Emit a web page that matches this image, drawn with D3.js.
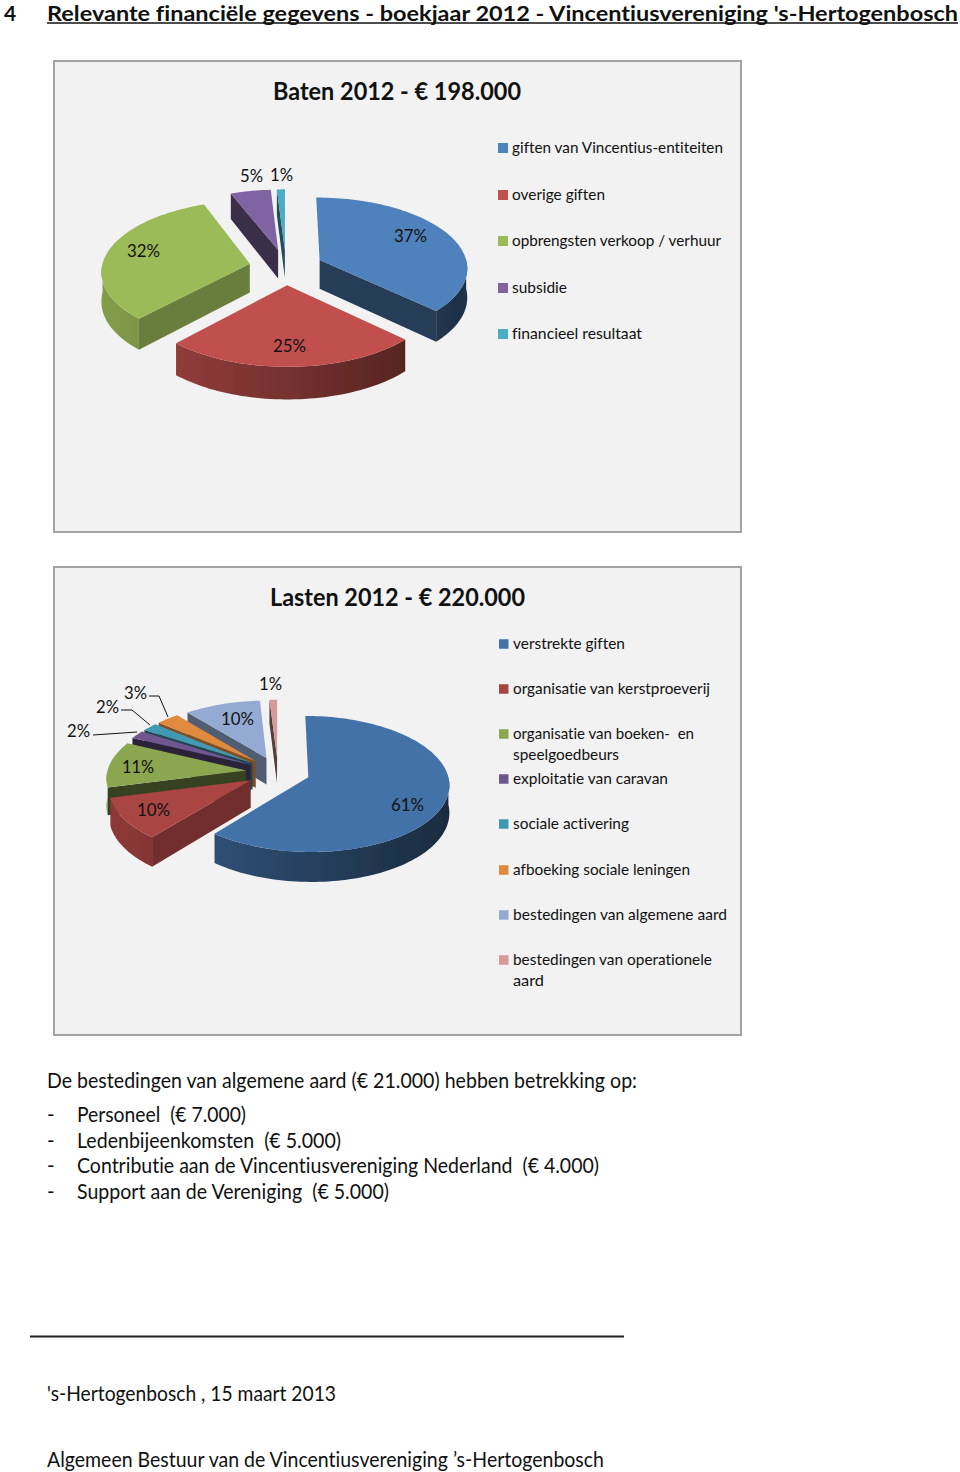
<!DOCTYPE html>
<html>
<head>
<meta charset="utf-8">
<script src="https://cdnjs.cloudflare.com/ajax/libs/d3/7.8.5/d3.min.js"></script>
<style>
html, body { margin: 0; background: #fff; }
svg { display: block; }
text { font-family: Lato, "Open Sans", sans-serif; fill: #111; font-variant-ligatures: none; }
</style>
</head>
<body>
<div id="page"></div>
<script>
// baten 2012
var batenLabels = ['giften van Vincentius-entiteiten', 'overige giften', 'opbrengsten verkoop / verhuur', 'subsidie', 'financieel resultaat'];
var batenValues = [37, 25, 32, 5, 1];
var batenColors = ['#4f81bd', '#c0504d', '#9bbb59', '#8064a2', '#4bacc6'];

// lasten 2012
var lastenLabels = ['verstrekte giften', 'organisatie van kerstproeverij', 'organisatie van boeken-  en|speelgoedbeurs', 'exploitatie van caravan', 'sociale activering', 'afboeking sociale leningen', 'bestedingen van algemene aard', 'bestedingen van operationele|aard'];
var lastenValues = [61, 10, 11, 2, 2, 3, 10, 1];
var lastenColors = ['#4372a8', '#a94442', '#8aa650', '#6f558f', '#3f9ab3', '#e08a3c', '#95aad3', '#d69a9a'];

var bulletLines = ['Personeel  (€ 7.000)', 'Ledenbijeenkomsten  (€ 5.000)', 'Contributie aan de Vincentiusvereniging Nederland  (€ 4.000)', 'Support aan de Vereniging  (€ 5.000)'];

var W = 960, H = 1472;
var svg = d3.select('#page').append('svg').attr('width', W).attr('height', H);
var defs = svg.append('defs');

// the scan is soft, keep the pies from looking too sharp next to it
defs.append('filter').attr('id', 'soft')
    .append('feGaussianBlur').attr('stdDeviation', 0.5);

// text squeezed to the width it has in the scan, the fonts here are wider than Calibri
function put(str, x, y, size, width, bold, anchor) {
    var t = svg.append('text')
        .attr('x', x)
        .attr('y', y)
        .attr('font-size', size)
        .attr('font-weight', bold ? 700 : 400)
        .attr('text-anchor', anchor || 'start')
        .attr('xml:space', 'preserve')
        .style('white-space', 'pre')
        .text(str);
    if (width) {
        t.attr('textLength', width).attr('lengthAdjust', 'spacingAndGlyphs');
    }
    return t;
}

function drawPanel(x, y, w, h) {
    svg.append('rect')
        .attr('x', x).attr('y', y)
        .attr('width', w).attr('height', h)
        .attr('fill', '#f2f2f2')
        .attr('stroke', '#a3a3a3')
        .attr('stroke-width', 2);
}

function drawPie3d(id, values, colors, o) {
    var x = d3.scaleLinear().domain([-1, 1]).range([o.cx - o.rx, o.cx + o.rx]);
    var y = d3.scaleLinear().domain([-1, 1]).range([o.cy - o.ry, o.cy + o.ry]);
    var line = d3.line();
    var pie = svg.append('g').attr('filter', 'url(#soft)');

    // u,v on the disc, v grows to the viewer. nearer is a bit bigger
    function project(u, v, down) {
        var s = 1 + 0.1 * v;
        return [x(u * s), y(v * s) + (down ? o.depth * s : 0)];
    }

    var arcs = d3.pie().sort(null)(values).map(function(d, i) {
        var mid = (d.startAngle + d.endAngle) / 2;
        return {
            i: i,
            a: d.startAngle,
            b: d.endAngle,
            mid: mid,
            ox: o.explode * Math.sin(mid),
            oy: -o.explode * Math.cos(mid)
        };
    });
    // far slices first
    arcs.sort(function(p, q) { return d3.ascending(p.oy, q.oy); });

    function rimPoints(d, from, to, down) {
        var n = Math.max(2, Math.ceil((to - from) / 0.03));
        return d3.range(n + 1).map(function(j) {
            var t = from + (to - from) * j / n;
            return project(d.ox + Math.sin(t), d.oy - Math.cos(t), down);
        });
    }

    arcs.forEach(function(d) {
        var g = pie.append('g').attr('class', 'slice');
        var c = colors[d.i];
        var apex = project(d.ox, d.oy, false);
        var apexDown = project(d.ox, d.oy, true);

        function face(angle) {
            var r = project(d.ox + Math.sin(angle), d.oy - Math.cos(angle), false);
            var rd = project(d.ox + Math.sin(angle), d.oy - Math.cos(angle), true);
            g.append('path')
                .attr('d', line([apex, r, rd, apexDown]) + 'Z')
                .attr('fill', d3.color(c).darker(o.faceDark[d.i]));
        }
        if (Math.sin(d.a) < 0) face(d.a);
        if (Math.sin(d.b) > 0) face(d.b);

        // outer wall, only the part that looks at the viewer
        var from = Math.max(d.a, Math.PI / 2), to = Math.min(d.b, Math.PI * 1.5);
        if (to > from) {
            var gid = id + '-rim-' + d.i;
            var grad = defs.append('linearGradient')
                .attr('id', gid)
                .attr('gradientUnits', 'userSpaceOnUse')
                .attr('x1', o.cx - o.rx * 1.2).attr('x2', o.cx + o.rx * 1.2)
                .attr('y1', 0).attr('y2', 0);
            grad.append('stop').attr('offset', '0%').attr('stop-color', d3.color(c).darker(0.5));
            grad.append('stop').attr('offset', '100%').attr('stop-color', d3.color(c).darker(2.7));
            var top = rimPoints(d, from, to, false);
            var bottom = rimPoints(d, from, to, true).reverse();
            g.append('path')
                .attr('d', line(top.concat(bottom)) + 'Z')
                .attr('fill', 'url(#' + gid + ')');
        }

        g.append('path')
            .attr('d', line([apex].concat(rimPoints(d, d.a, d.b, false))) + 'Z')
            .attr('fill', c);
    });
}

function drawLegend(labels, colors, ys, sx, sw, tx, widths) {
    labels.forEach(function(l, i) {
        svg.append('rect')
            .attr('x', sx).attr('y', ys[i] - sw / 2)
            .attr('width', sw).attr('height', sw)
            .attr('fill', colors[i]);
        l.split('|').forEach(function(part, j) {
            put(part, tx, ys[i] + 5 + j * 21, 15, widths[i][j]);
        });
    });
}

// header
put('4', 4, 20.8, 21, 0, true);
put("Relevante financiële gegevens - boekjaar 2012 - Vincentiusvereniging 's-Hertogenbosch", 47, 20.8, 21, 911, true);
svg.append('line').attr('x1', 47).attr('x2', 958).attr('y1', 23).attr('y2', 23).attr('stroke', '#111').attr('stroke-width', 1.6);

// baten
drawPanel(54, 61, 687, 471);
put('Baten 2012 - € 198.000', 273, 100, 24, 248, true);
drawPie3d('baten', batenValues, batenColors, { cx: 286, cy: 267, rx: 148, ry: 71, depth: 29, explode: 0.25, faceDark: [2.1, 1.5, 1.1, 2.2, 2.2] });
[['37%', 394, 242, 33], ['25%', 273, 352, 33], ['32%', 127, 257, 33], ['5%', 240, 182, 23], ['1%', 270, 181, 23]].forEach(function(d) {
    put(d[0], d[1], d[2], 16.5, d[3]);
});
drawLegend(batenLabels, batenColors, [148, 195, 241, 288, 334], 498, 10, 512, [[211], [93], [209], [55], [130]]);

// lasten
drawPanel(54, 567, 687, 468);
put('Lasten 2012 - € 220.000', 270, 606, 24, 255, true);
drawPie3d('lasten', lastenValues, lastenColors, { cx: 278, cy: 772, rx: 139, ry: 67, depth: 27, explode: 0.23, faceDark: [2, 1.1, 2.6, 2.6, 2.2, 1.6, 1.7, 2.6] });
[['61%', 391, 811, 33], ['10%', 137, 816, 33], ['11%', 122, 773, 32], ['2%', 67, 737, 23], ['2%', 96, 713, 23], ['3%', 124, 699, 23], ['10%', 221, 725, 33], ['1%', 259, 690, 23]].forEach(function(d) {
    put(d[0], d[1], d[2], 16.5, d[3]);
});
[[[93, 735], [137, 732]], [[121, 710], [132, 710], [150, 725]], [[149, 696], [159, 696], [168, 717]]].forEach(function(p) {
    svg.append('path').attr('d', d3.line()(p)).attr('fill', 'none').attr('stroke', '#111').attr('stroke-width', 1);
});
drawLegend(lastenLabels, lastenColors, [644, 689, 734, 779, 824, 870, 915, 960], 499, 9.5, 513, [[112], [197], [181, 106], [155], [116], [177], [214], [199, 31]]);

// toelichting
put('De bestedingen van algemene aard (€ 21.000) hebben betrekking op:', 47, 1088, 20.5, 590);
var bulletWidths = [169, 264, 522, 312];
bulletLines.forEach(function(l, i) {
    var by = [1122, 1148, 1173, 1199][i];
    put('-', 47, by, 20.5, 0);
    put(l, 77, by, 20.5, bulletWidths[i]);
});

svg.append('line').attr('x1', 30).attr('x2', 624).attr('y1', 1336.5).attr('y2', 1336.5).attr('stroke', '#222').attr('stroke-width', 2);
put("'s-Hertogenbosch , 15 maart 2013", 47, 1401, 20.5, 289);
put('Algemeen Bestuur van de Vincentiusvereniging ’s-Hertogenbosch', 47, 1467, 20.5, 557);
</script>
</body>
</html>
